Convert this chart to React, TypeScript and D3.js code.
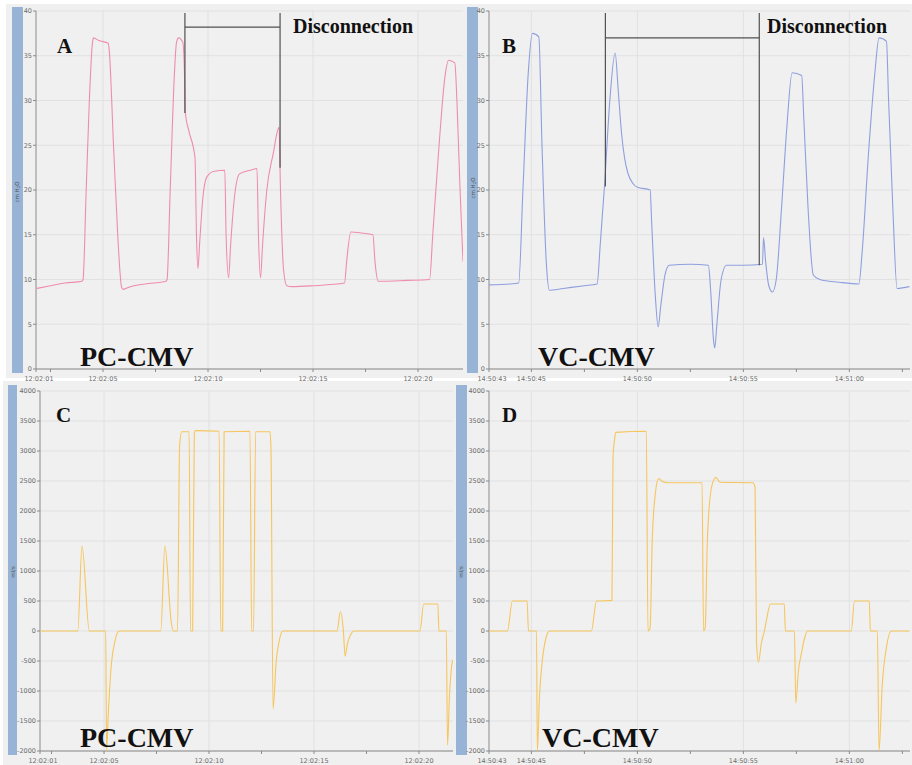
import React from "react";
import * as d3 from "d3";

// ---- PC-CMV airway pressure (s after 12:02:00, cmH2O) ----
const pcPressureT = [1.85, 2.5, 3.2, 4.0, 4.05, 4.2, 4.35, 4.5, 4.55, 4.8, 5.25, 5.3, 5.5, 5.7, 5.88, 5.95, 6.3, 7.0, 8.0, 8.05, 8.2, 8.4, 8.5, 8.6, 8.8, 8.88, 8.92, 9.1, 9.38, 9.45, 9.52, 9.6, 9.75, 9.95, 10.3, 10.8, 10.86, 10.98, 11.08, 11.25, 11.5, 12.0, 12.33, 12.4, 12.5, 12.6, 12.8, 13.1, 13.38, 13.45, 13.6, 13.75, 14.0, 15.0, 16.5, 16.6, 16.8, 17.3, 17.85, 17.95, 18.1, 19.5, 20.55, 20.7, 21.0, 21.3, 21.45, 21.75, 21.85, 22.0, 22.14];
const pcPressureV = [9.0, 9.3, 9.6, 9.8, 10.0, 20, 30, 36.5, 37.0, 36.7, 36.4, 35.5, 25, 15, 9.2, 8.9, 9.2, 9.5, 9.8, 10, 20, 33, 36.5, 37.0, 36.5, 33, 28.6, 26.5, 23.6, 15, 11.2, 14, 19, 21.5, 22.1, 22.2, 15, 10.2, 14, 19, 21.8, 22.2, 22.4, 15, 10.2, 14, 20, 24, 27.0, 20, 11, 9.3, 9.2, 9.3, 9.6, 12, 15.3, 15.2, 15.0, 12, 9.8, 9.9, 10.0, 15, 25, 33, 34.5, 34.2, 30, 20, 12];

// ---- VC-CMV airway pressure (s after 14:50:00, cmH2O) ----
const vcPressureT = [43.0, 44.0, 44.4, 44.6, 44.85, 45.05, 45.35, 45.5, 45.7, 45.85, 46.5, 47.5, 48.1, 48.25, 48.45, 48.7, 48.95, 49.1, 49.25, 49.4, 49.55, 49.8, 50.0, 50.6, 50.68, 50.85, 50.98, 51.1, 51.3, 51.5, 52.5, 53.35, 53.45, 53.6, 53.65, 53.75, 53.95, 54.2, 55.0, 55.9, 55.95, 56.05, 56.2, 56.37, 56.55, 56.8, 57.05, 57.3, 57.75, 57.85, 58.05, 58.3, 58.6, 59.5, 60.45, 60.6, 60.9, 61.2, 61.4, 61.75, 61.85, 62.05, 62.25, 62.83];
const vcPressureV = [9.4, 9.5, 9.6, 20, 33, 37.5, 37.1, 25, 12, 8.8, 9.0, 9.3, 9.5, 14, 20.5, 30, 35.3, 31, 26.4, 23.5, 21.9, 20.7, 20.3, 20.0, 16, 8, 4.7, 7, 10.5, 11.6, 11.7, 11.6, 9, 3, 2.35, 5, 10, 11.6, 11.6, 11.7, 14.7, 12, 9.3, 8.6, 10, 18, 27, 33.1, 32.8, 28, 18, 10.5, 10.0, 9.7, 9.5, 13, 24, 33, 37.0, 36.6, 30, 18, 9.0, 9.2];

// ---- PC-CMV flow (s after 12:02:00, ml/s) ----
const pcFlowT = [1.95, 3.75, 3.95, 4.3, 5.08, 5.12, 5.2, 5.35, 5.5, 5.72, 7.7, 7.9, 8.2, 8.3, 8.5, 8.6, 8.7, 9.05, 9.12, 9.22, 9.3, 9.35, 10.48, 10.56, 10.65, 10.72, 11.95, 12.03, 12.12, 12.22, 12.9, 12.95, 13.05, 13.2, 13.35, 13.52, 16.1, 16.25, 16.4, 16.48, 16.6, 16.75, 16.9, 20.05, 20.22, 20.9, 20.95, 21.3, 21.36, 21.45, 21.55, 21.62];
const pcFlowV = [0, 0, 1420, 0, 0, -2000, -1400, -550, -200, 0, 0, 1420, 150, 0, 0, 3100, 3320, 3320, 0, 0, 3300, 3340, 3330, 0, 0, 3320, 3330, 0, 0, 3320, 3320, 3050, -1300, -500, -150, 0, 0, 320, 0, -420, -200, -60, 0, 0, 450, 450, 0, 0, -1900, -1100, -600, -480];

// ---- VC-CMV flow (s after 14:50:00, ml/s) ----
const vcFlowT = [43.0, 43.87, 44.1, 44.8, 44.86, 45.24, 45.28, 45.38, 45.52, 45.7, 45.85, 47.83, 48.07, 48.8, 48.85, 48.92, 48.98, 50.42, 50.5, 50.6, 50.7, 50.85, 51.0, 51.15, 51.42, 53.05, 53.12, 53.2, 53.3, 53.5, 53.7, 53.9, 55.45, 55.55, 55.62, 55.71, 55.85, 55.99, 56.1, 56.27, 56.93, 56.98, 57.41, 57.47, 57.6, 57.74, 57.9, 58.02, 60.09, 60.24, 60.94, 60.99, 61.32, 61.4, 61.55, 61.75, 61.98, 62.83];
const vcFlowV = [0, 0, 500, 500, 0, 0, -2000, -1100, -480, -100, 0, 0, 500, 510, 2900, 3180, 3310, 3330, 0, 50, 1500, 2300, 2540, 2500, 2470, 2470, 0, 60, 1500, 2400, 2560, 2480, 2470, 2400, -200, -520, -200, 0, 200, 450, 450, 0, 0, -1200, -650, -370, -100, 0, 0, 500, 500, 0, 0, -2000, -900, -270, 0, 0];

// ---- axis ticks ----
const pressureTicks = [0, 5, 10, 15, 20, 25, 30, 35, 40];
const flowTicks = [-2000, -1500, -1000, -500, 0, 500, 1000, 1500, 2000, 2500, 3000, 3500, 4000];
const pcTimeTicks = [5, 10, 15, 20];
const pcTimeLabels = ["12:02:05", "12:02:10", "12:02:15", "12:02:20"];
const pcMinorTicks = [2.5, 7.5, 12.5, 17.5];
const pcStartLabel = "12:02:01";
const vcTimeTicks = [45, 50, 55, 60];
const vcTimeLabels = ["14:50:45", "14:50:50", "14:50:55", "14:51:00"];
const vcMinorTicks = [47.5, 52.5, 57.5, 62.5];
const vcStartLabel = "14:50:43";

// ---- disconnection brackets: [t start, t end, y left bottom, y right bottom, y bar] ----
const pcBracket = [8.9, 13.43, 28.6, 22.5, 38.2];
const vcBracket = [48.49, 55.75, 20.4, 11.6, 37.0];

const SERIF = "'Liberation Serif', 'Times New Roman', serif";
const SANS = "'DejaVu Sans', Arial, sans-serif";
const PANEL_BG = "#f0f0f0";
const BAR_BLUE = "#97b3d5";
const GRID = "#e1e1e1";
const AXIS = "#8a8a8a";
const TICK_TEXT = "#6a6a6a";

type PanelProps = {
  bg: [number, number, number, number];
  bar: [number, number, number, number];
  xDomain: [number, number];
  xRange: [number, number];
  yDomain: [number, number];
  yRange: [number, number];
  yTicks: number[];
  xTicks: number[];
  xLabels: string[];
  xMinor: number[];
  startLabel: string;
  t: number[];
  v: number[];
  color: string;
  unit: React.ReactNode;
  unitPos: [number, number];
  letter: string;
  letterPos: [number, number];
  mode: string;
  modePos: [number, number];
  bracket?: number[];
  discPos?: [number, number];
  clipId: string;
};

function Panel(p: PanelProps) {
  const x = d3.scaleLinear().domain(p.xDomain).range(p.xRange);
  const y = d3.scaleLinear().domain(p.yDomain).range(p.yRange);
  const x0 = p.xRange[0];
  const x1 = p.xRange[1];
  const yb = p.yRange[0];
  const yt = p.yRange[1];
  const pts: [number, number][] = p.t.map((t, i) => [t, p.v[i]]);
  const line = d3
    .line<[number, number]>()
    .x((d) => x(d[0]))
    .y((d) => y(d[1]))
    .curve(d3.curveMonotoneX);

  let bracket: React.ReactNode = null;
  if (p.bracket) {
    const [ts, te, yl, yr, yh] = p.bracket;
    const top = y(p.yDomain[1]) + 2;
    bracket = (
      <g stroke="#505050" strokeWidth={1.2} fill="none">
        <line x1={x(ts)} x2={x(ts)} y1={top} y2={y(yl)} />
        <line x1={x(te)} x2={x(te)} y1={top} y2={y(yr)} />
        <line x1={x(ts)} x2={x(te)} y1={y(yh)} y2={y(yh)} />
      </g>
    );
  }

  return (
    <g>
      <rect x={p.bg[0]} y={p.bg[1]} width={p.bg[2]} height={p.bg[3]} fill={PANEL_BG} />
      <rect x={p.bar[0]} y={p.bar[1]} width={p.bar[2]} height={p.bar[3]} fill={BAR_BLUE} />
      <clipPath id={p.clipId}>
        <rect x={x0} y={yt - 1} width={x1 - x0} height={yb - yt + 2} />
      </clipPath>
      {/* grid */}
      <g stroke={GRID} strokeWidth={1}>
        {p.yTicks.map((v) => (
          <line key={"gy" + v} x1={x0} x2={x1} y1={y(v)} y2={y(v)} />
        ))}
        {p.xTicks.map((t) => (
          <line key={"gx" + t} x1={x(t)} x2={x(t)} y1={yt} y2={yb} />
        ))}
      </g>
      {/* axes */}
      <g stroke={AXIS} strokeWidth={1}>
        <line x1={x0} x2={x0} y1={yt} y2={yb} />
        <line x1={x0} x2={x1} y1={yb} y2={yb} />
        {p.yTicks.map((v) => (
          <line key={"ty" + v} x1={x0 - 3} x2={x0} y1={y(v)} y2={y(v)} />
        ))}
        {p.xTicks.concat(p.xMinor).map((t) =>
          x(t) <= x1 ? <line key={"tx" + t} x1={x(t)} x2={x(t)} y1={yb} y2={yb + 3} /> : null
        )}
        <line x1={x0} x2={x0} y1={yb} y2={yb + 3} />
      </g>
      <g fontFamily={SANS} fontSize={6.5} fill={TICK_TEXT}>
        {p.yTicks.map((v) => (
          <text key={"ly" + v} x={x0 - 4} y={y(v) + 2.3} textAnchor="end">
            {v}
          </text>
        ))}
        {p.xTicks.map((t, i) => (
          <text key={"lx" + t} x={x(t)} y={yb + 11.5} textAnchor="middle">
            {p.xLabels[i]}
          </text>
        ))}
        <text x={x0 + 3} y={yb + 11.5} textAnchor="middle">
          {p.startLabel}
        </text>
      </g>
      <text
        transform={`translate(${p.unitPos[0]},${p.unitPos[1]}) rotate(-90)`}
        fontFamily={SANS}
        fontSize={5.5}
        fill="#555"
        textAnchor="middle"
      >
        {p.unit}
      </text>
      <path
        d={line(pts) ?? ""}
        fill="none"
        stroke={p.color}
        strokeWidth={1.1}
        strokeLinejoin="round"
        clipPath={`url(#${p.clipId})`}
      />
      {bracket}
      {p.discPos ? (
        <text x={p.discPos[0]} y={p.discPos[1]} fontFamily={SERIF} fontWeight="bold" fontSize={20} fill="#111">
          Disconnection
        </text>
      ) : null}
      <text x={p.letterPos[0]} y={p.letterPos[1]} fontFamily={SERIF} fontWeight="bold" fontSize={21} fill="#111">
        {p.letter}
      </text>
      <text x={p.modePos[0]} y={p.modePos[1]} fontFamily={SERIF} fontWeight="bold" fontSize={28} fill="#111">
        {p.mode}
      </text>
    </g>
  );
}

const cmH2O = (
  <>
    cm H<tspan fontSize={4} dy={1}>2</tspan>
    <tspan dy={-1}>O</tspan>
  </>
);

export default function App() {
  return (
    <svg width={912} height={765} style={{ display: "block", position: "absolute", left: 0, top: 0 }}>
      <rect x={0} y={0} width={912} height={765} fill="#ffffff" />
      <Panel
        clipId="clipA"
        bg={[6, 4, 460, 374]}
        bar={[12, 7, 11, 366]}
        xDomain={[1.81, 22.14]}
        xRange={[36, 463]}
        yDomain={[0, 40]}
        yRange={[369, 11]}
        yTicks={pressureTicks}
        xTicks={pcTimeTicks}
        xLabels={pcTimeLabels}
        xMinor={pcMinorTicks}
        startLabel={pcStartLabel}
        t={pcPressureT}
        v={pcPressureV}
        color="#ef8cae"
        unit={cmH2O}
        unitPos={[19, 192]}
        letter="A"
        letterPos={[57, 53]}
        mode="PC-CMV"
        modePos={[80, 366]}
        bracket={pcBracket}
        discPos={[293, 33]}
      />
      <Panel
        clipId="clipB"
        bg={[464, 4, 448, 374]}
        bar={[467, 7, 11, 366]}
        xDomain={[43.0, 62.86]}
        xRange={[489, 910]}
        yDomain={[0, 40]}
        yRange={[369, 11]}
        yTicks={pressureTicks}
        xTicks={vcTimeTicks}
        xLabels={vcTimeLabels}
        xMinor={vcMinorTicks}
        startLabel={vcStartLabel}
        t={vcPressureT}
        v={vcPressureV}
        color="#8e9fdf"
        unit={cmH2O}
        unitPos={[475, 188]}
        letter="B"
        letterPos={[502, 53]}
        mode="VC-CMV"
        modePos={[538, 366]}
        bracket={vcBracket}
        discPos={[767, 33]}
      />
      <Panel
        clipId="clipC"
        bg={[3, 381, 450, 384]}
        bar={[8, 385, 9, 370]}
        xDomain={[1.95, 21.62]}
        xRange={[40, 453]}
        yDomain={[-2000, 4000]}
        yRange={[751, 391]}
        yTicks={flowTicks}
        xTicks={pcTimeTicks}
        xLabels={pcTimeLabels}
        xMinor={pcMinorTicks}
        startLabel={pcStartLabel}
        t={pcFlowT}
        v={pcFlowV}
        color="#f6c55c"
        unit="ml/s"
        unitPos={[15, 572]}
        letter="C"
        letterPos={[56, 422]}
        mode="PC-CMV"
        modePos={[80, 747]}
      />
      <Panel
        clipId="clipD"
        bg={[453, 381, 459, 384]}
        bar={[456, 385, 11, 370]}
        xDomain={[43.0, 62.86]}
        xRange={[489, 910]}
        yDomain={[-2000, 4000]}
        yRange={[751, 391]}
        yTicks={flowTicks}
        xTicks={vcTimeTicks}
        xLabels={vcTimeLabels}
        xMinor={vcMinorTicks}
        startLabel={vcStartLabel}
        t={vcFlowT}
        v={vcFlowV}
        color="#f6c55c"
        unit="ml/s"
        unitPos={[463, 572]}
        letter="D"
        letterPos={[502, 422]}
        mode="VC-CMV"
        modePos={[542, 747]}
      />
    </svg>
  );
}
